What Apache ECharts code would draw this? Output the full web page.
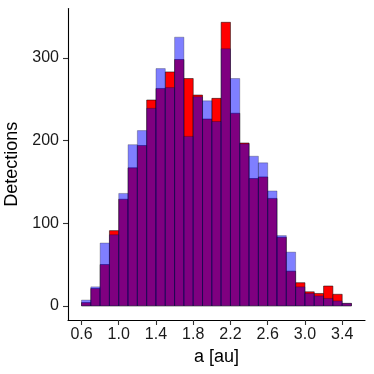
<!DOCTYPE html>
<html>
<head>
<meta charset="utf-8">
<script src="https://cdn.jsdelivr.net/npm/echarts@6/dist/echarts.min.js"></script>
<style>
  html, body { margin: 0; padding: 0; background: #fff; }
  #chart { width: 374px; height: 374px; }
</style>
</head>
<body>
<div id="chart"></div>
<script>
// bin left edges, width 0.1
var binLeft = [0.6, 0.7, 0.8, 0.9, 1.0, 1.1, 1.2, 1.3, 1.4, 1.5, 1.6, 1.7, 1.8, 1.9, 2.0,
  2.1, 2.2, 2.3, 2.4, 2.5, 2.6, 2.7, 2.8, 2.9, 3.0, 3.1, 3.2, 3.3, 3.4];
var binWidth = 0.1;
var redCounts = [4, 21, 50, 91, 129, 167, 194, 249, 263, 283, 298, 275, 255, 226, 251,
  343, 233, 197, 154, 156, 130, 83, 42, 28, 17, 15, 24, 14, 3];
var blueCounts = [7, 23, 76, 86, 136, 195, 212, 239, 287, 264, 325, 205, 253, 248, 223,
  311, 275, 196, 181, 173, 139, 85, 65, 23, 15, 12, 9, 6, 3];
var xTicks = [0.6, 1.0, 1.4, 1.8, 2.2, 2.6, 3.0, 3.4];
var yTicks = [0, 100, 200, 300];

var font = '"Liberation Sans", Arial, Helvetica, sans-serif';

function toRows(counts) {
  return binLeft.map(function (x, i) { return [x, x + binWidth, counts[i]]; });
}

function barRenderer(fill, stroke) {
  return function (params, api) {
    var p0 = api.coord([api.value(0), api.value(2)]);
    var p1 = api.coord([api.value(1), 0]);
    return {
      type: 'rect',
      shape: { x: p0[0], y: p0[1], width: p1[0] - p0[0], height: p1[1] - p0[1] },
      style: { fill: fill, stroke: stroke, lineWidth: 0.5 }
    };
  };
}

var chart = echarts.init(document.getElementById('chart'), null, { renderer: 'canvas' });
chart.setOption({
  animation: false,
  grid: { left: 68, right: 9, top: 8.5, bottom: 54, containLabel: false, outerBoundsMode: 'none' },
  xAxis: {
    type: 'value',
    min: 0.455,
    max: 3.645,
    name: 'a [au]',
    nameLocation: 'middle',
    nameGap: 28,
    nameTextStyle: { fontFamily: font, fontSize: 18, color: '#000' },
    splitLine: { show: false },
    axisLine: { show: true, onZero: false, lineStyle: { color: '#000', width: 1.1 } },
    axisTick: { show: true, length: 5, lineStyle: { color: '#333', width: 1.1 }, customValues: xTicks },
    axisLabel: {
      margin: 7, fontFamily: font, fontSize: 16, color: '#1a1a1a',
      customValues: xTicks,
      formatter: function (v) { return v.toFixed(1); }
    }
  },
  yAxis: {
    type: 'value',
    min: -17.1,
    max: 359.7,
    name: 'Detections',
    nameLocation: 'middle',
    nameGap: 43,
    nameRotate: 90,
    nameTextStyle: { fontFamily: font, fontSize: 18, color: '#000' },
    splitLine: { show: false },
    axisLine: { show: true, onZero: false, lineStyle: { color: '#000', width: 1.1 } },
    axisTick: { show: true, length: 5, lineStyle: { color: '#333', width: 1.1 }, customValues: yTicks },
    axisLabel: {
      margin: 9, fontFamily: font, fontSize: 16, color: '#1a1a1a',
      customValues: yTicks
    }
  },
  series: [
    {
      type: 'custom',
      name: 'red',
      renderItem: barRenderer('#ff0000', '#000000'),
      encode: { x: [0, 1], y: 2 },
      data: toRows(redCounts)
    },
    {
      type: 'custom',
      name: 'blue',
      renderItem: barRenderer('rgba(0,0,255,0.5)', 'rgba(0,0,0,0.5)'),
      encode: { x: [0, 1], y: 2 },
      data: toRows(blueCounts)
    }
  ]
});
</script>
</body>
</html>
